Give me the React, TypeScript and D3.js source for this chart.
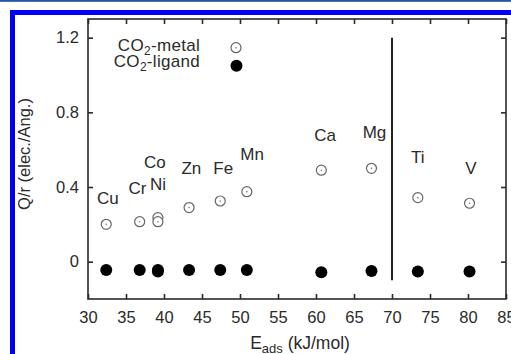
import * as d3 from "d3";
import { useEffect, useRef } from "react";

// data
const elements = ["Cu", "Cr", "Ni", "Co", "Zn", "Fe", "Mn", "Ca", "Mg", "Ti", "V"];
const eads = [32.4, 36.8, 39.2, 39.2, 43.3, 47.4, 50.9, 60.7, 67.3, 73.4, 80.2];
const qMetal = [0.2, 0.214, 0.236, 0.214, 0.29, 0.325, 0.375, 0.49, 0.5, 0.343, 0.313];
const qLigand = [-0.045, -0.045, -0.053, -0.045, -0.045, -0.045, -0.045, -0.057, -0.05, -0.053, -0.053];
// label anchors (data units)
const labelX = [32.6, 36.5, 39.2, 38.8, 43.6, 47.8, 51.6, 61.2, 67.7, 73.4, 80.4];
const labelY = [0.343, 0.395, 0.415, 0.532, 0.5, 0.5, 0.577, 0.679, 0.697, 0.563, 0.502];
const xTicks = [30, 35, 40, 45, 50, 55, 60, 65, 70, 75, 80, 85];
const yTicks = [0, 0.4, 0.8, 1.2];
const divider = { x: 70, y0: -0.1, y1: 1.2 };

const W = 511;
const H = 354;
const FONT = "'Liberation Sans', Arial, sans-serif";

const App = () => {
  const svgRef = useRef<SVGSVGElement>(null);

  useEffect(() => {
    const svg = d3.select(svgRef.current);
    svg.selectAll("*").remove();

    const left = 88, right = 506, top = 19, bottom = 299;

    const x = d3.scaleLinear().domain([30, 85]).range([left, right]);
    const y = d3.scaleLinear().domain([-0.2, 1.3]).range([bottom, top]);

    // blue page frame
    svg.append("rect").attr("x", 0).attr("y", 0).attr("width", W).attr("height", 1.8).attr("fill", "#1f55a8");
    svg.append("path")
      .attr("d", `M12.5,${H} V12.5 H${W}`)
      .attr("fill", "none")
      .attr("stroke", "#0000f2")
      .attr("stroke-width", 5);

    const axisColor = "#2a2a2a";
    const styleAxis = (g: any) => {
      g.select(".domain").remove();
      g.selectAll(".tick line").attr("stroke", axisColor).attr("stroke-width", 1.6);
      g.selectAll(".tick text")
        .attr("fill", "#2a2a2a")
        .attr("font-family", FONT)
        .attr("font-size", 16.5);
    };

    svg.append("g")
      .attr("transform", `translate(0,${bottom})`)
      .call(d3.axisBottom(x).tickValues(xTicks).tickSizeInner(-5).tickSizeOuter(0).tickPadding(12).tickFormat(d3.format("d")))
      .call(styleAxis);
    svg.append("g")
      .attr("transform", `translate(0,${top})`)
      .call(d3.axisTop(x).tickValues(xTicks).tickSizeInner(-5).tickSizeOuter(0).tickFormat(() => ""))
      .call(styleAxis);
    svg.append("g")
      .attr("transform", `translate(${left},0)`)
      .call(d3.axisLeft(y).tickValues(yTicks).tickSizeInner(-5).tickSizeOuter(0).tickPadding(9).tickFormat((d: any) => (d === 0 ? "0" : d3.format(".1f")(d))))
      .call(styleAxis);
    svg.append("g")
      .attr("transform", `translate(${right},0)`)
      .call(d3.axisRight(y).tickValues(yTicks).tickSizeInner(-5).tickSizeOuter(0).tickFormat(() => ""))
      .call(styleAxis);

    // frame
    svg.append("rect")
      .attr("x", left).attr("y", top)
      .attr("width", right - left).attr("height", bottom - top)
      .attr("fill", "none").attr("stroke", axisColor).attr("stroke-width", 1.6);

    // divider line
    svg.append("line")
      .attr("x1", x(divider.x)).attr("x2", x(divider.x))
      .attr("y1", y(divider.y0)).attr("y2", y(divider.y1))
      .attr("stroke", "#222").attr("stroke-width", 2);

    const idx = d3.range(elements.length);

    // CO2-ligand (filled)
    svg.append("g").selectAll("circle")
      .data(idx)
      .join("circle")
      .attr("cx", (i) => x(eads[i]))
      .attr("cy", (i) => y(qLigand[i]))
      .attr("r", 6)
      .attr("fill", "#000");

    // CO2-metal (open with centre dot)
    const openPt = (g: any, cx: number, cy: number) => {
      g.append("circle").attr("cx", cx).attr("cy", cy).attr("r", 5)
        .attr("fill", "#fff").attr("stroke", "#666").attr("stroke-width", 1.2);
      g.append("circle").attr("cx", cx).attr("cy", cy).attr("r", 0.8).attr("fill", "#777");
    };
    const metalG = svg.append("g");
    idx.forEach((i) => openPt(metalG, x(eads[i]), y(qMetal[i])));

    // element labels
    svg.append("g").selectAll("text")
      .data(idx)
      .join("text")
      .attr("x", (i) => x(labelX[i]))
      .attr("y", (i) => y(labelY[i]))
      .attr("dy", "0.36em")
      .attr("text-anchor", "middle")
      .attr("font-family", FONT)
      .attr("font-size", 17)
      .attr("fill", "#2a2a2a")
      .text((i) => elements[i]);

    // legend
    const legend = [
      { name: "metal", yy: 51, filled: false },
      { name: "ligand", yy: 67, filled: true },
    ];
    legend.forEach((l) => {
      const t = svg.append("text")
        .attr("x", 200).attr("y", l.yy)
        .attr("text-anchor", "end")
        .attr("font-family", FONT)
        .attr("font-size", 17)
        .attr("letter-spacing", 0.3)
        .attr("fill", "#2a2a2a");
      t.append("tspan").text("CO");
      t.append("tspan").attr("font-size", 12).attr("dy", 3.5).text("2");
      t.append("tspan").attr("dy", -3.5).text("-" + l.name);
      if (l.filled) {
        svg.append("circle").attr("cx", 236.5).attr("cy", 65.7).attr("r", 6).attr("fill", "#000");
      } else {
        openPt(svg, 236, 47.7);
      }
    });

    // axis titles
    svg.append("text")
      .attr("transform", `translate(30,154) rotate(-90)`)
      .attr("text-anchor", "middle")
      .attr("font-family", FONT)
      .attr("font-size", 16.5)
      .attr("fill", "#2a2a2a")
      .text("Q/r (elec./Ang.)");

    const xt = svg.append("text")
      .attr("x", 300).attr("y", 349)
      .attr("text-anchor", "middle")
      .attr("font-family", FONT)
      .attr("font-size", 17.5)
      .attr("fill", "#2a2a2a");
    xt.append("tspan").text("E");
    xt.append("tspan").attr("font-size", 13).attr("dy", 3.5).text("ads");
    xt.append("tspan").attr("dy", -3.5).text(" (kJ/mol)");
  }, []);

  return (
    <svg
      ref={svgRef}
      width={W}
      height={H}
      style={{ position: "absolute", left: 0, top: 0, background: "#fff" }}
    ></svg>
  );
};

export default App;
